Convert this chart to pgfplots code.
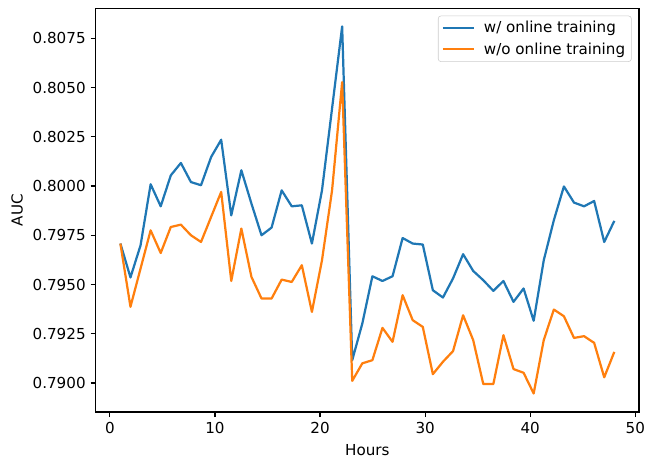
\documentclass[border=0pt]{standalone}
\usepackage{fontspec}
\setmainfont{DejaVu Sans}
\usepackage{pgfplots}
\pgfplotsset{compat=1.18}
\definecolor{tabblue}{HTML}{1F77B4}
\definecolor{taborange}{HTML}{FF7F0E}
\begin{document}
\begin{tikzpicture}
\useasboundingbox (-68.9pt,-33.12pt) rectangle (396.94pt,296.64pt);
\begin{axis}[
  scale only axis,
  width=391.18pt, height=290.66pt,
  at={(0,0)}, anchor=south west,
  xmin=-1.35, xmax=50.35,
  ymin=0.78853, ymax=0.80902,
  xtick={0,10,20,30,40,50},
  ytick={0.79,0.7925,0.795,0.7975,0.8,0.8025,0.805,0.8075},
  scaled y ticks=false, scaled x ticks=false,
  yticklabel style={/pgf/number format/.cd,fixed,fixed zerofill,precision=4},
  /pgf/number format/assume math mode=true,
  tick align=outside, xtick pos=lower, ytick pos=left,
  major tick length=3.7pt,
  every tick/.style={black, line width=0.85pt},
  axis line style={line width=0.85pt},
  tick label style={font=\fontsize{10.9}{13}\selectfont},
  label style={font=\fontsize{10.9}{13}\selectfont},
  xlabel={Hours}, ylabel={AUC},
  xlabel style={at={(axis description cs:0.5,-0.079)}, anchor=north, inner sep=0pt},
  ylabel style={at={(axis description cs:-0.1338,0.5)}, rotate=0, anchor=south, inner sep=0pt},
  legend style={at={(rel axis cs:1,1)}, anchor=north east, xshift=-5.3pt, yshift=-5.3pt,
    draw=black!20, rounded corners=2pt, fill=white, font=\fontsize{10.9}{13}\selectfont,
    row sep=1.4pt, column sep=4pt, inner xsep=2.5pt, inner ysep=1.95pt, nodes={inner sep=2pt}},
  legend cell align=left,
  legend image code/.code={\draw[#1] (0pt,0pt) -- (22.8pt,0pt);},
]
\addplot[tabblue, line width=1.6pt, line join=round] coordinates {
(1.0000,0.79708) (1.9592,0.79536) (2.9184,0.79699) (3.8776,0.80009) (4.8367,0.79897)
(5.7959,0.80054) (6.7551,0.80117) (7.7143,0.80020) (8.6735,0.80004) (9.6327,0.80147)
(10.5918,0.80235) (11.5510,0.79851) (12.5102,0.80080) (13.4694,0.79911) (14.4286,0.79750)
(15.3878,0.79789) (16.3469,0.79978) (17.3061,0.79897) (18.2653,0.79902) (19.2245,0.79708)
(20.1837,0.79978) (21.1429,0.80394) (22.1020,0.80810) (23.0612,0.79116) (24.0204,0.79302)
(24.9796,0.79542) (25.9388,0.79518) (26.8980,0.79542) (27.8571,0.79736) (28.8163,0.79708)
(29.7755,0.79703) (30.7347,0.79471) (31.6939,0.79434) (32.6531,0.79531) (33.6122,0.79654)
(34.5714,0.79569) (35.5306,0.79522) (36.4898,0.79468) (37.4490,0.79518) (38.4082,0.79412)
(39.3673,0.79480) (40.3265,0.79316) (41.2857,0.79623) (42.2449,0.79826) (43.2041,0.79998)
(44.1633,0.79916) (45.1224,0.79897) (46.0816,0.79924) (47.0408,0.79716) (48.0000,0.79823)
};
\addlegendentry{w/ online training}
\addplot[taborange, line width=1.6pt, line join=round] coordinates {
(1.0000,0.79708) (1.9592,0.79387) (2.9184,0.79581) (3.8776,0.79775) (4.8367,0.79660)
(5.7959,0.79792) (6.7551,0.79804) (7.7143,0.79750) (8.6735,0.79716) (9.6327,0.79843)
(10.5918,0.79970) (11.5510,0.79518) (12.5102,0.79784) (13.4694,0.79539) (14.4286,0.79429)
(15.3878,0.79429) (16.3469,0.79525) (17.3061,0.79513) (18.2653,0.79598) (19.2245,0.79361)
(20.1837,0.79623) (21.1429,0.79978) (22.1020,0.80527) (23.0612,0.79011) (24.0204,0.79100)
(24.9796,0.79116) (25.9388,0.79280) (26.8980,0.79209) (27.8571,0.79446) (28.8163,0.79319)
(29.7755,0.79285) (30.7347,0.79045) (31.6939,0.79108) (32.6531,0.79162) (33.6122,0.79344)
(34.5714,0.79218) (35.5306,0.78995) (36.4898,0.78995) (37.4490,0.79243) (38.4082,0.79071)
(39.3673,0.79052) (40.3265,0.78947) (41.2857,0.79218) (42.2449,0.79373) (43.2041,0.79339)
(44.1633,0.79229) (45.1224,0.79238) (46.0816,0.79204) (47.0408,0.79029) (48.0000,0.79158)
};
\addlegendentry{w/o online training}
\end{axis}
\end{tikzpicture}
\end{document}
